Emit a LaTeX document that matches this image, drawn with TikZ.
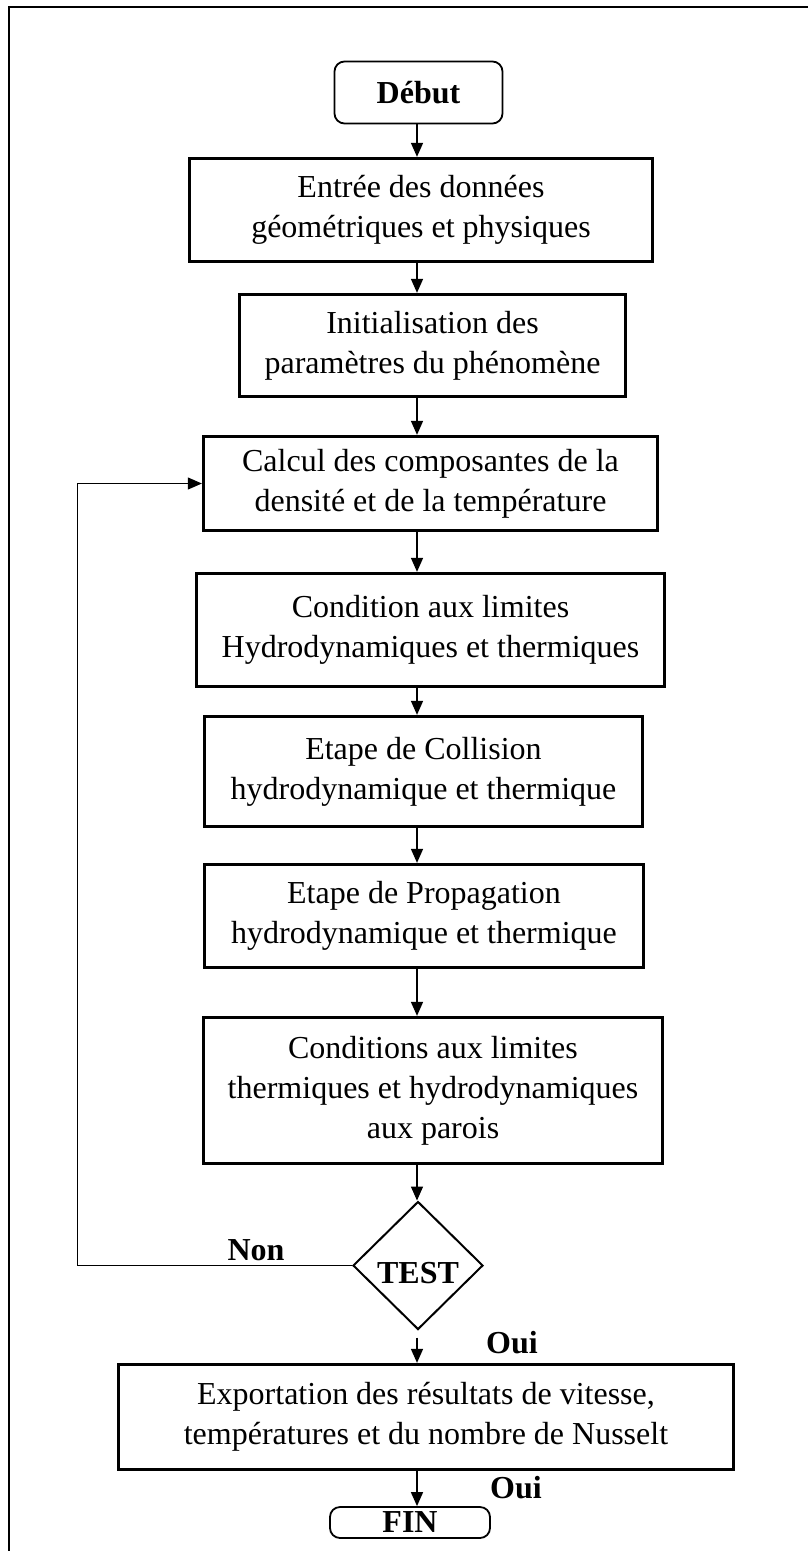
\documentclass[tikz,border=0pt]{standalone}
\usepackage{fontspec}
\setmainfont{Liberation Serif}
\usetikzlibrary{arrows.meta,shapes.geometric,positioning}

\begin{document}
\begin{tikzpicture}[x=1pt,y=-1pt,>={Triangle[length=14pt,width=12pt]},
  font=\fontsize{32}{40}\selectfont,
  etape/.style={draw,line width=3.3pt,align=center,inner sep=0pt},
  terminal/.style={draw,line width=1.8pt,rounded corners=10pt,inner sep=0pt,
    font=\fontsize{32}{36}\selectfont\bfseries},
  decision/.style={draw,diamond,line width=2pt,inner sep=0pt,
    font=\fontsize{32}{36}\selectfont\bfseries},
  etiq/.style={inner sep=0pt,font=\fontsize{32}{36}\selectfont\bfseries},
  fleche/.style={->,line width=1.5pt},
  boucle/.style={->,line width=1pt}]

\useasboundingbox (0,0) rectangle (807,1551);
\draw[line width=2.4pt] (9,1560) -- (9,7) -- (815,7);

\coordinate (axe) at (417,0);
\coordinate (retour) at (77,0);

\node[terminal, minimum width=168pt, minimum height=62pt] (debut) at (418.5,92.5) {Début};
\node[etape, minimum width=463pt, minimum height=103pt] (entree) at (421,210)
  {Entrée des données\\géométriques et physiques};
\node[etape, minimum width=386pt, minimum height=102pt] (init) at (432.5,345.5)
  {Initialisation des\\paramètres du phénomène};
\node[etape, minimum width=454pt, minimum height=94pt] (calcul) at (430.5,483.5)
  {Calcul des composantes de la\\densité et de la température};
\node[etape, minimum width=468pt, minimum height=113pt] (limites) at (430.5,630)
  {Condition aux limites\\Hydrodynamiques et thermiques};
\node[etape, minimum width=438pt, minimum height=110pt] (collision) at (423.5,771.5)
  {Etape de Collision\\hydrodynamique et thermique};
\node[etape, minimum width=439pt, minimum height=103pt] (propagation) at (424,916)
  {Etape de Propagation\\hydrodynamique et thermique};
\node[etape, minimum width=459pt, minimum height=146pt] (parois) at (433,1090.5)
  {Conditions aux limites\\thermiques et hydrodynamiques\\aux parois};
\node[decision, minimum width=130pt, minimum height=128pt,
  text height=35pt, text depth=0pt] (test) at (418,1265.5) {TEST};
\node[etape, minimum width=615pt, minimum height=105pt] (export) at (426,1417)
  {Exportation des résultats de vitesse,\\températures et du nombre de Nusselt};
\node[terminal, minimum width=160pt, minimum height=31pt] (fin) at (410,1522.5) {FIN};

\node[etiq] (non) at (256,1250) {Non};
\node[etiq] (oui1) at (512,1343) {Oui};
\node[etiq] (oui2) at (516,1488) {Oui};

\path[fleche]
  (debut.south -| axe) edge (entree.north -| axe)
  (entree.south -| axe) edge (init.north -| axe)
  (init.south -| axe) edge (calcul.north -| axe)
  (calcul.south -| axe) edge (limites.north -| axe)
  (limites.south -| axe) edge (collision.north -| axe)
  (collision.south -| axe) edge (propagation.north -| axe)
  (propagation.south -| axe) edge (parois.north -| axe)
  (parois.south -| axe) edge (test.north -| axe)
  (test.south -| axe) edge [shorten <=7pt] (export.north -| axe)
  (export.south -| axe) edge (fin.north -| axe)
;
\draw[boucle] (test.west) -- (test.west -| retour) |- (calcul.west);
\end{tikzpicture}
\end{document}
